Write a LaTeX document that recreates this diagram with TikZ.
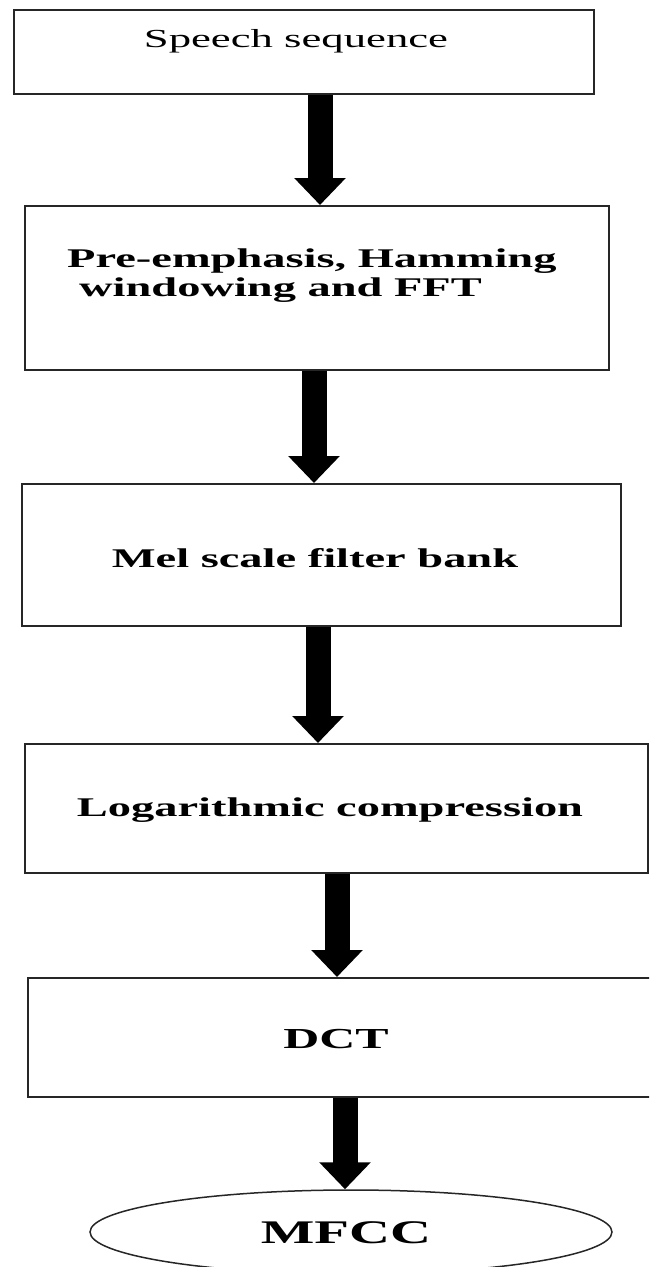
\documentclass[tikz,border=0pt]{standalone}
\usepackage{fontspec}
\setmainfont{Liberation Serif}
\newfontfamily\wideserif[FakeStretch=1.72]{Liberation Serif}
\usetikzlibrary{arrows.meta,shapes.geometric}
\begin{document}
\begin{tikzpicture}[x=1pt,y=-1pt,
  box/.style={draw=black!85, line width=2pt, rectangle, inner sep=0pt},
  lbl/.style={font=\wideserif\bfseries\fontsize{27}{29}\selectfont, inner sep=0pt, text=black},
  bigarrow/.style={line width=25pt, -{Triangle[width=50pt,length=27pt]}, black}]
\useasboundingbox (0,0) rectangle (649,1267);
\clip (0,0) rectangle (649,1267);
% boxes
\node[box, minimum width=580pt, minimum height=84pt] (b1) at (304,52) {};
\node[box, minimum width=584pt, minimum height=164pt] (b2) at (317,288) {};
\node[box, minimum width=599pt, minimum height=142pt] (b3) at (321.5,555) {};
\node[box, minimum width=623pt, minimum height=129pt] (b4) at (336.5,808.5) {};
\node[box, minimum width=632pt, minimum height=119pt] (b5) at (344,1037.5) {};
\node[ellipse, draw=black!85, line width=1.5pt, minimum width=522pt, minimum height=84pt, inner sep=0pt] (e6) at (351,1232) {};
% labels
\node[font=\wideserif\fontsize{26}{30}\selectfont, inner sep=0pt] (t1) at (296,41) {Speech sequence};
\node[lbl, anchor=west, align=left] (t2) at (67,276) {Pre-emphasis, Hamming\\\hspace*{12pt}windowing and FFT};
\node[lbl] (t3) at (315,558) {Mel scale filter bank};
\node[lbl] (t4) at (330,810) {Logarithmic compression};
\node[lbl, font=\wideserif\bfseries\fontsize{29}{33}\selectfont] (t5) at (336,1039) {DCT};
\node[lbl, font=\wideserif\bfseries\fontsize{33}{37}\selectfont] (t6) at (346,1233) {MFCC};
% arrow columns
\coordinate (a1) at (320,0);
\coordinate (a2) at (314,0);
\coordinate (a3) at (318,0);
\coordinate (a4) at (337,0);
\coordinate (a5) at (345,0);
\draw[bigarrow] (b1.south -| a1) -- (b2.north -| a1);
\draw[bigarrow] (b2.south -| a2) -- (b3.north -| a2);
\draw[bigarrow] (b3.south -| a3) -- (b4.north -| a3);
\draw[bigarrow] (b4.south -| a4) -- (b5.north -| a4);
\draw[bigarrow] (b5.south -| a5) -- (e6.north -| a5);
\end{tikzpicture}
\end{document}
